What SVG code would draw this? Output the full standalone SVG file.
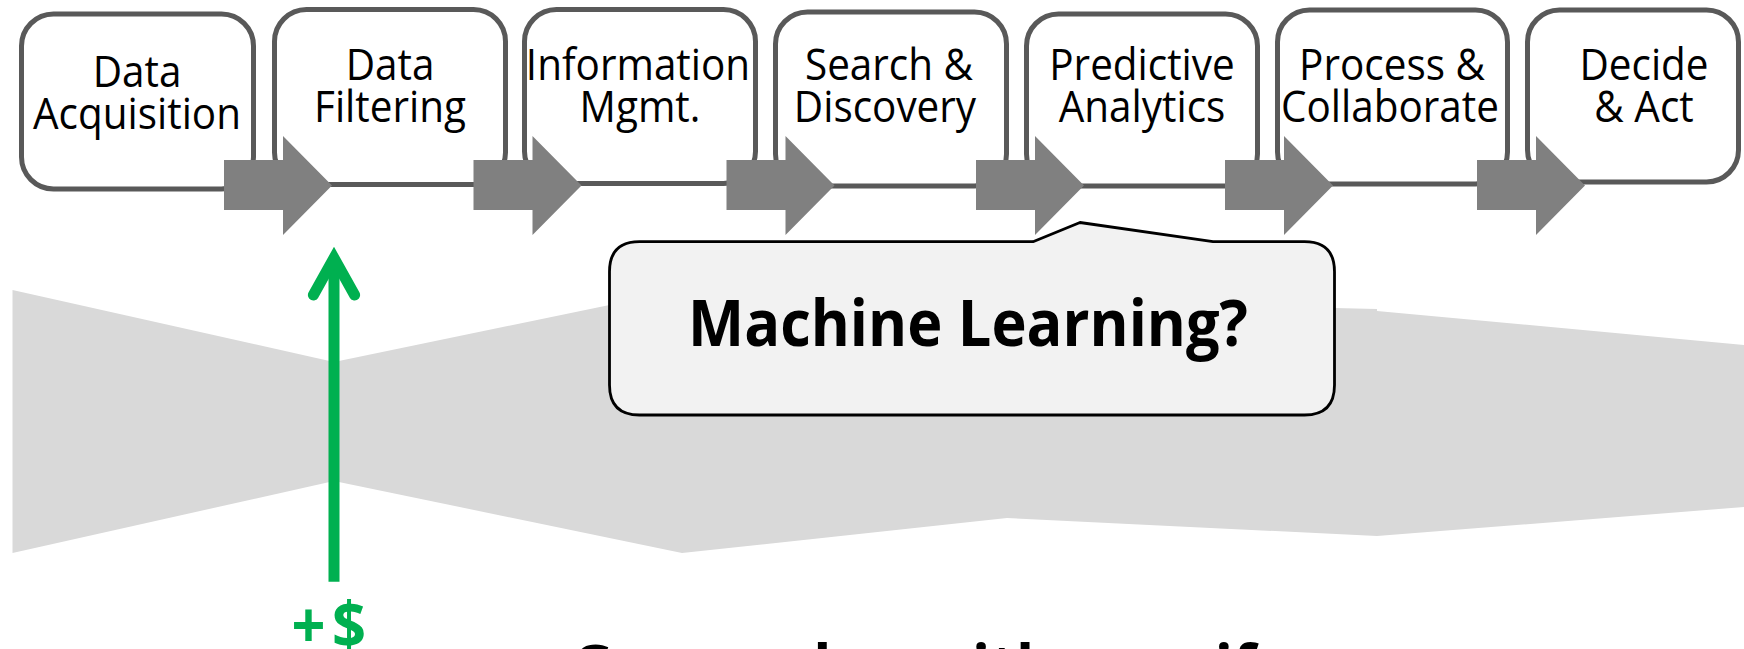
<svg xmlns="http://www.w3.org/2000/svg" width="1744" height="649" viewBox="0 0 1744 649">
<style>
.box{fill:#fff;stroke:#595959;stroke-width:5}
.lbl{font-family:"Open Sans","Noto Sans",sans-serif;font-size:43.5px;fill:#000;text-anchor:middle}
.band{fill:#d9d9d9}
.flow{fill:#808080}
.ml{font-family:"Open Sans","Noto Sans",sans-serif;font-weight:bold;font-size:64px;fill:#000;text-anchor:middle}
.money{font-family:"Open Sans","Noto Sans",sans-serif;font-weight:bold;font-size:64px;fill:#00b050;text-anchor:middle;letter-spacing:7px}
.big{font-family:"Open Sans","Noto Sans",sans-serif;font-weight:bold;font-size:64px;fill:#000}
</style>
<rect width="1744" height="649" fill="#fff"/>
<g id="bands">
<polygon class="band" points="12.5,290 334,362 334,481 12.5,553"/>
<polygon class="band" points="334,362 682,290 682,553 334,481"/>
<polygon class="band" points="682,290 1007,300 1007,518 682,553"/>
<polygon class="band" points="1007,300 1377,309 1377,536 1007,518"/>
<polygon class="band" points="1377,311 1744,345 1744,507 1377,536"/>
</g>
<g id="n1"><rect class="box" x="21.5" y="14" width="232" height="175" rx="32"/>
<text class="lbl" transform="translate(137,87) scale(0.93,1)">Data</text>
<text class="lbl" transform="translate(137,129) scale(0.93,1)">Acquisition</text></g>
<g id="n2"><rect class="box" x="274.5" y="9.5" width="231" height="175" rx="32"/>
<text class="lbl" transform="translate(390,80) scale(0.93,1)">Data</text>
<text class="lbl" transform="translate(390,122) scale(0.93,1)">Filtering</text></g>
<g id="n3"><rect class="box" x="524.5" y="9.5" width="231" height="174" rx="32"/>
<text class="lbl" transform="translate(638,80) scale(0.93,1)">Information</text>
<text class="lbl" transform="translate(640,122) scale(0.93,1)">Mgmt.</text></g>
<g id="n4"><rect class="box" x="775.5" y="12" width="231" height="174" rx="32"/>
<text class="lbl" transform="translate(889,80) scale(0.93,1)">Search &amp;</text>
<text class="lbl" transform="translate(885,122) scale(0.93,1)">Discovery</text></g>
<g id="n5"><rect class="box" x="1026.5" y="14" width="231" height="172" rx="32"/>
<text class="lbl" transform="translate(1142,80) scale(0.93,1)">Predictive</text>
<text class="lbl" transform="translate(1142,122) scale(0.93,1)">Analytics</text></g>
<g id="n6"><rect class="box" x="1277.5" y="10" width="230" height="174" rx="32"/>
<text class="lbl" transform="translate(1392,80) scale(0.93,1)">Process &amp;</text>
<text class="lbl" transform="translate(1390,122) scale(0.93,1)">Collaborate</text></g>
<g id="n7"><rect class="box" x="1527.5" y="10" width="211" height="172" rx="32"/>
<text class="lbl" transform="translate(1644,80) scale(0.93,1)">Decide</text>
<text class="lbl" transform="translate(1644,122) scale(0.93,1)">&amp; Act</text></g>
<g id="connectors">
<polygon class="flow" points="224,160 283,160 283,136 332,185.5 283,235 283,210 224,210"/>
<polygon class="flow" points="473.5,160 532.5,160 532.5,136 581.5,185.5 532.5,235 532.5,210 473.5,210"/>
<polygon class="flow" points="726.5,160 785.5,160 785.5,136 834.5,185.5 785.5,235 785.5,210 726.5,210"/>
<polygon class="flow" points="976,160 1035,160 1035,136 1084,185.5 1035,235 1035,210 976,210"/>
<polygon class="flow" points="1225,160 1284,160 1284,136 1333,185.5 1284,235 1284,210 1225,210"/>
<polygon class="flow" points="1477,160 1536,160 1536,136 1585,185.5 1536,235 1536,210 1477,210"/>
<g id="gain" stroke="#00b050" stroke-width="11" fill="none">
<line x1="334" y1="581.7" x2="334" y2="262"/>
<polyline points="313.4,295 334,258 354.6,295" stroke-linecap="round" stroke-miterlimit="10"/>
</g>
</g>
<g id="callout">
<path d="M639.5,241.7 L1033,241.7 L1080,222.5 L1213,241.7 L1304.5,241.7 Q1334.5,241.7 1334.5,271.7 L1334.5,385 Q1334.5,415 1304.5,415 L639.5,415 Q609.5,415 609.5,385 L609.5,271.7 Q609.5,241.7 639.5,241.7 Z" fill="#f2f2f2" stroke="#000" stroke-width="2.8" stroke-linejoin="round"/>
<text class="ml" transform="translate(968,346) scale(0.93,1)">Machine Learning?</text>
</g>
<g id="money-label"><text class="money" transform="translate(332,648) scale(0.93,1)">+$</text></g>
<g id="bottom-title"><text class="big" transform="translate(570,691) scale(0.93,1)">Grow value with care if</text></g>
</svg>
